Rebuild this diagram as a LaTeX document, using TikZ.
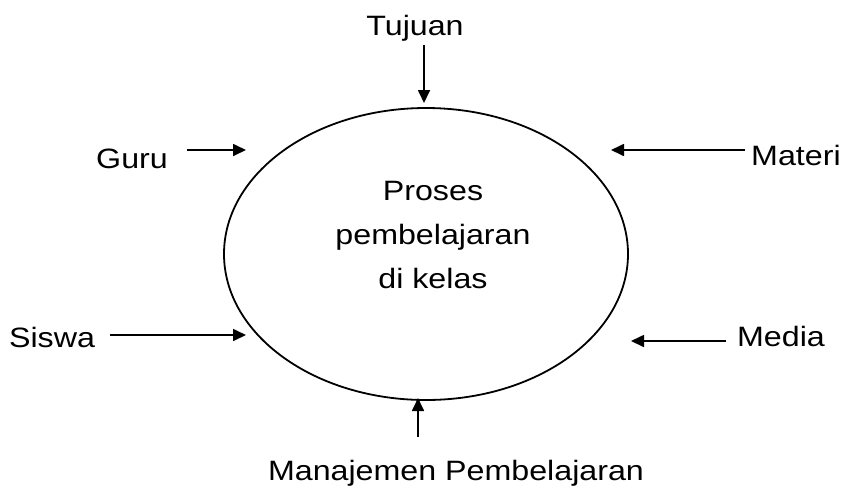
\documentclass[tikz,border=0pt]{standalone}
\usepackage{fontspec}
\setmainfont{Liberation Sans}[FakeStretch=1.15]
\usetikzlibrary{arrows.meta,shapes.geometric}
\begin{document}
\begin{tikzpicture}[x=1pt,y=-1pt,
  lbl/.style={font=\fontsize{28}{44}\selectfont, inner sep=0pt, anchor=base},
  arr/.style={-{Triangle[length=13pt,width=12pt]}, line width=1.7pt}]
\useasboundingbox (0,0) rectangle (851,491);
\node[draw, line width=1.8pt, ellipse, minimum width=404pt, minimum height=292pt, inner sep=0pt] (proc) at (426,254) {};
\node[font=\fontsize{28}{44}\selectfont, inner sep=0pt, align=center] (ptext) at (433,235) {Proses\\pembelajaran\\di kelas};
\node[lbl] (tujuan) at (415,35) {Tujuan};
\node[lbl] (guru) at (132,168) {Guru};
\node[lbl, anchor=base west] (materi) at (751,165) {Materi};
\node[lbl] (siswa) at (52,347) {Siswa};
\node[lbl] (media) at (781,346) {Media};
\node[lbl] (manaj) at (456,480) {Manajemen Pembelajaran};
\coordinate (t0) at (424,45); \coordinate (t1) at (424,103);
\coordinate (g0) at (187,150); \coordinate (g1) at (246,150);
\coordinate (m0) at (745,150); \coordinate (m1) at (611,150);
\coordinate (s0) at (110,335); \coordinate (s1) at (246,335);
\coordinate (d0) at (726,341); \coordinate (d1) at (631,341);
\coordinate (j0) at (418,437); \coordinate (j1) at (418,398);
\draw[arr] (t0) -- (t1);
\draw[arr] (g0) -- (g1);
\draw[arr] (m0) -- (m1);
\draw[arr] (s0) -- (s1);
\draw[arr] (d0) -- (d1);
\draw[arr] (j0) -- (j1);
\end{tikzpicture}
\end{document}
